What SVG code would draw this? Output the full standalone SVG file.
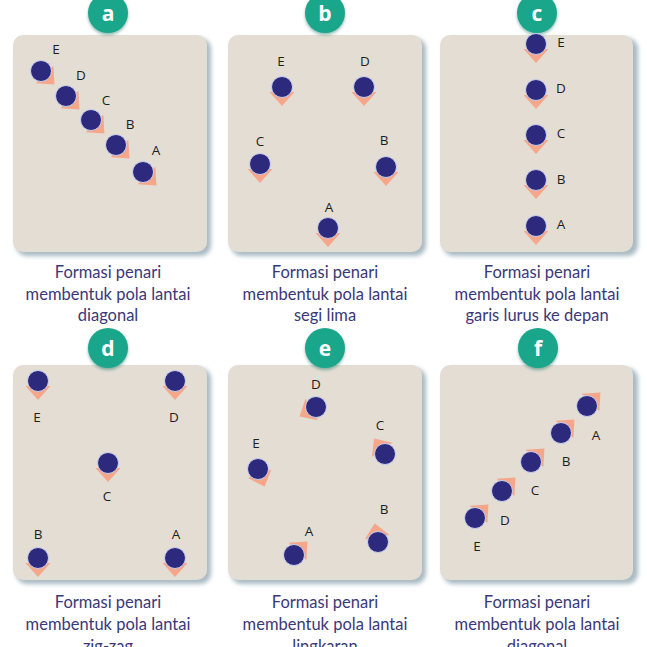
<svg xmlns="http://www.w3.org/2000/svg" width="647" height="647" viewBox="0 0 647 647">
<defs>
<filter id="sh" x="-10%" y="-10%" width="130%" height="130%"><feGaussianBlur stdDeviation="2"/></filter>
<filter id="bsh" x="-30%" y="-30%" width="160%" height="160%"><feGaussianBlur stdDeviation="1.5"/></filter>
<style>
.panel{fill:#e3ddd4}
.pshadow{fill:#a9bac4;filter:url(#sh)}
.badge{fill:#1aa68a}
.bshadow{fill:#0f6e5a;opacity:0.45;filter:url(#bsh)}
.btxt{font-family:"Open Sans","DejaVu Sans",sans-serif;font-weight:bold;font-size:21px;fill:#fff;text-anchor:middle}
.cap{font-family:Lato,"Open Sans",sans-serif;font-size:16.5px;fill:#3b3878;text-anchor:middle}
.lbl{font-family:"Open Sans","Liberation Sans",sans-serif;font-size:13.5px;fill:#1e1e1e;text-anchor:middle}
.arrow{fill:#f6a78a}
.dot{fill:#2d2a7e;stroke:#c9d0ee;stroke-width:1}
</style>
</defs>

<!-- panels -->
<g id="panels">
<rect class="pshadow" x="16" y="38" width="195" height="218" rx="11"/>
<rect class="panel" x="13" y="35" width="194" height="217" rx="10"/>
<rect class="pshadow" x="231" y="38" width="195" height="218" rx="11"/>
<rect class="panel" x="228" y="35" width="194" height="217" rx="10"/>
<rect class="pshadow" x="443" y="38" width="195" height="218" rx="11"/>
<rect class="panel" x="440" y="35" width="193" height="217" rx="10"/>
<rect class="pshadow" x="16" y="368" width="195" height="216" rx="11"/>
<rect class="panel" x="13" y="365" width="194" height="215" rx="10"/>
<rect class="pshadow" x="231" y="368" width="195" height="216" rx="11"/>
<rect class="panel" x="228" y="365" width="194" height="215" rx="10"/>
<rect class="pshadow" x="443" y="368" width="195" height="216" rx="11"/>
<rect class="panel" x="440" y="365" width="193" height="215" rx="10"/>
</g>

<!-- badges -->
<g id="badge-a"><circle class="bshadow" cx="108" cy="15" r="20"/><circle class="badge" cx="108" cy="13" r="20"/><text class="btxt" x="108" y="21">a</text></g>
<g id="badge-b"><circle class="bshadow" cx="325" cy="15" r="20"/><circle class="badge" cx="325" cy="13" r="20"/><text class="btxt" x="325" y="21">b</text></g>
<g id="badge-c"><circle class="bshadow" cx="537" cy="15" r="20"/><circle class="badge" cx="537" cy="13" r="20"/><text class="btxt" x="537" y="21">c</text></g>
<g id="badge-d"><circle class="bshadow" cx="108" cy="350" r="20"/><circle class="badge" cx="108" cy="348" r="20"/><text class="btxt" x="108" y="356">d</text></g>
<g id="badge-e"><circle class="bshadow" cx="325" cy="350" r="20"/><circle class="badge" cx="325" cy="348" r="20"/><text class="btxt" x="325" y="356">e</text></g>
<g id="badge-f"><circle class="bshadow" cx="538" cy="350" r="20"/><circle class="badge" cx="538" cy="348" r="20"/><text class="btxt" x="538" y="356">f</text></g>

<!-- panel a: diagonal -->
<g id="a-E"><g transform="translate(41,71)"><polygon class="arrow" transform="rotate(-45)" points="-12.5,5 12.5,5 0,19"/><circle class="dot" r="10.5"/></g><text class="lbl" x="56" y="54">E</text></g>
<g id="a-D"><g transform="translate(66,96)"><polygon class="arrow" transform="rotate(-45)" points="-12.5,5 12.5,5 0,19"/><circle class="dot" r="10.5"/></g><text class="lbl" x="81" y="80">D</text></g>
<g id="a-C"><g transform="translate(91,120)"><polygon class="arrow" transform="rotate(-45)" points="-12.5,5 12.5,5 0,19"/><circle class="dot" r="10.5"/></g><text class="lbl" x="106" y="105">C</text></g>
<g id="a-B"><g transform="translate(116,145)"><polygon class="arrow" transform="rotate(-45)" points="-12.5,5 12.5,5 0,19"/><circle class="dot" r="10.5"/></g><text class="lbl" x="130" y="129">B</text></g>
<g id="a-A"><g transform="translate(143,172)"><polygon class="arrow" transform="rotate(-45)" points="-12.5,5 12.5,5 0,19"/><circle class="dot" r="10.5"/></g><text class="lbl" x="156" y="155">A</text></g>

<!-- panel b: segi lima -->
<g id="b-E"><g transform="translate(282,87)"><polygon class="arrow" points="-12.5,5 12.5,5 0,19"/><circle class="dot" r="10.5"/></g><text class="lbl" x="281" y="66">E</text></g>
<g id="b-D"><g transform="translate(364,87)"><polygon class="arrow" points="-12.5,5 12.5,5 0,19"/><circle class="dot" r="10.5"/></g><text class="lbl" x="365" y="66">D</text></g>
<g id="b-C"><g transform="translate(260,164)"><polygon class="arrow" points="-12.5,5 12.5,5 0,19"/><circle class="dot" r="10.5"/></g><text class="lbl" x="260" y="146">C</text></g>
<g id="b-B"><g transform="translate(386,167)"><polygon class="arrow" points="-12.5,5 12.5,5 0,19"/><circle class="dot" r="10.5"/></g><text class="lbl" x="384" y="145">B</text></g>
<g id="b-A"><g transform="translate(328,228)"><polygon class="arrow" points="-12.5,5 12.5,5 0,19"/><circle class="dot" r="10.5"/></g><text class="lbl" x="329" y="212">A</text></g>

<!-- panel c: garis lurus -->
<g id="c-E"><g transform="translate(536,44)"><polygon class="arrow" points="-12.5,5 12.5,5 0,19"/><circle class="dot" r="10.5"/></g><text class="lbl" x="561" y="47">E</text></g>
<g id="c-D"><g transform="translate(536,90)"><polygon class="arrow" points="-12.5,5 12.5,5 0,19"/><circle class="dot" r="10.5"/></g><text class="lbl" x="561" y="93">D</text></g>
<g id="c-C"><g transform="translate(536,135)"><polygon class="arrow" points="-12.5,5 12.5,5 0,19"/><circle class="dot" r="10.5"/></g><text class="lbl" x="561" y="138">C</text></g>
<g id="c-B"><g transform="translate(536,180)"><polygon class="arrow" points="-12.5,5 12.5,5 0,19"/><circle class="dot" r="10.5"/></g><text class="lbl" x="561" y="184">B</text></g>
<g id="c-A"><g transform="translate(536,226)"><polygon class="arrow" points="-12.5,5 12.5,5 0,19"/><circle class="dot" r="10.5"/></g><text class="lbl" x="561" y="229">A</text></g>

<!-- panel d: zig-zag -->
<g id="d-E"><g transform="translate(38,381)"><polygon class="arrow" points="-12.5,5 12.5,5 0,19"/><circle class="dot" r="10.5"/></g><text class="lbl" x="37" y="422">E</text></g>
<g id="d-D"><g transform="translate(175,381)"><polygon class="arrow" points="-12.5,5 12.5,5 0,19"/><circle class="dot" r="10.5"/></g><text class="lbl" x="174" y="422">D</text></g>
<g id="d-C"><g transform="translate(108,463)"><polygon class="arrow" points="-12.5,5 12.5,5 0,19"/><circle class="dot" r="10.5"/></g><text class="lbl" x="107" y="501">C</text></g>
<g id="d-B"><g transform="translate(38,558)"><polygon class="arrow" points="-12.5,5 12.5,5 0,19"/><circle class="dot" r="10.5"/></g><text class="lbl" x="38" y="539">B</text></g>
<g id="d-A"><g transform="translate(175,558)"><polygon class="arrow" points="-12.5,5 12.5,5 0,19"/><circle class="dot" r="10.5"/></g><text class="lbl" x="176" y="539">A</text></g>

<!-- panel e: lingkaran -->
<g id="e-D"><g transform="translate(316,407)"><polygon class="arrow" transform="rotate(60)" points="-12.5,5 12.5,5 0,19"/><circle class="dot" r="10.5"/></g><text class="lbl" x="316" y="389">D</text></g>
<g id="e-C"><g transform="translate(385,454)"><polygon class="arrow" transform="rotate(145)" points="-12.5,5 12.5,5 0,19"/><circle class="dot" r="10.5"/></g><text class="lbl" x="380" y="430">C</text></g>
<g id="e-E"><g transform="translate(258,469)"><polygon class="arrow" transform="rotate(-20)" points="-12.5,5 12.5,5 0,19"/><circle class="dot" r="10.5"/></g><text class="lbl" x="256" y="448">E</text></g>
<g id="e-B"><g transform="translate(378,542)"><polygon class="arrow" transform="rotate(170)" points="-12.5,5 12.5,5 0,19"/><circle class="dot" r="10.5"/></g><text class="lbl" x="384" y="514">B</text></g>
<g id="e-A"><g transform="translate(294,555)"><polygon class="arrow" transform="rotate(-135)" points="-12.5,5 12.5,5 0,19"/><circle class="dot" r="10.5"/></g><text class="lbl" x="309" y="536">A</text></g>

<!-- panel f: diagonal -->
<g id="f-A"><g transform="translate(587,406)"><polygon class="arrow" transform="rotate(-135)" points="-12.5,5 12.5,5 0,19"/><circle class="dot" r="10.5"/></g><text class="lbl" x="596" y="440">A</text></g>
<g id="f-B"><g transform="translate(561,433)"><polygon class="arrow" transform="rotate(-135)" points="-12.5,5 12.5,5 0,19"/><circle class="dot" r="10.5"/></g><text class="lbl" x="566" y="466">B</text></g>
<g id="f-C"><g transform="translate(531,462)"><polygon class="arrow" transform="rotate(-135)" points="-12.5,5 12.5,5 0,19"/><circle class="dot" r="10.5"/></g><text class="lbl" x="535" y="495">C</text></g>
<g id="f-D"><g transform="translate(502,491)"><polygon class="arrow" transform="rotate(-135)" points="-12.5,5 12.5,5 0,19"/><circle class="dot" r="10.5"/></g><text class="lbl" x="505" y="525">D</text></g>
<g id="f-E"><g transform="translate(475,518)"><polygon class="arrow" transform="rotate(-135)" points="-12.5,5 12.5,5 0,19"/><circle class="dot" r="10.5"/></g><text class="lbl" x="477" y="551">E</text></g>

<!-- captions -->
<g id="captions">
<text class="cap" x="108" y="278">Formasi penari</text>
<text class="cap" x="108" y="300">membentuk pola lantai</text>
<text class="cap" x="108" y="321">diagonal</text>
<text class="cap" x="325" y="278">Formasi penari</text>
<text class="cap" x="325" y="300">membentuk pola lantai</text>
<text class="cap" x="325" y="321">segi lima</text>
<text class="cap" x="537" y="278">Formasi penari</text>
<text class="cap" x="537" y="300">membentuk pola lantai</text>
<text class="cap" x="537" y="321">garis lurus ke depan</text>
<text class="cap" x="108" y="608">Formasi penari</text>
<text class="cap" x="108" y="630">membentuk pola lantai</text>
<text class="cap" x="108" y="652">zig-zag</text>
<text class="cap" x="325" y="608">Formasi penari</text>
<text class="cap" x="325" y="630">membentuk pola lantai</text>
<text class="cap" x="325" y="652">lingkaran</text>
<text class="cap" x="537" y="608">Formasi penari</text>
<text class="cap" x="537" y="630">membentuk pola lantai</text>
<text class="cap" x="537" y="652">diagonal</text>
</g>
</svg>
